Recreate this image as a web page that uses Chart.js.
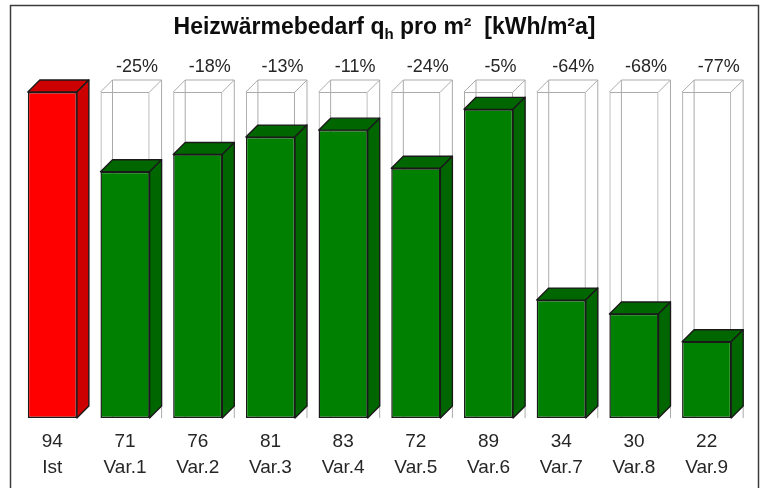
<!DOCTYPE html>
<html>
<head>
<meta charset="utf-8">
<title>Heizwärmebedarf</title>
<script src="https://cdn.jsdelivr.net/npm/chart.js@4/dist/chart.umd.min.js"></script>
<style>
  html, body { margin: 0; padding: 0; background: #fff; }
  #wrap { width: 762px; height: 488px; position: relative; }
</style>
</head>
<body>
<div id="wrap"><canvas id="chart" width="762" height="488"></canvas></div>
<script>
const categories = ["Ist", "Var.1", "Var.2", "Var.3", "Var.4", "Var.5", "Var.6", "Var.7", "Var.8", "Var.9"];
const values = [94, 71, 76, 81, 83, 72, 89, 34, 30, 22];
const reference = [null, 94, 94, 94, 94, 94, 94, 94, 94, 94];
const changes = ["", "-25%", "-18%", "-13%", "-11%", "-24%", "-5%", "-64%", "-68%", "-77%"];

const FONT = '"Liberation Sans", Arial, sans-serif';
const DEPTH = 12;
const INK = "#1a1a1a";
const TEXT = "#262626";
const GHOST = "#ababab";

function path(ctx, pts, fill, stroke, width) {
  ctx.beginPath();
  pts.forEach((p, i) => i ? ctx.lineTo(p[0], p[1]) : ctx.moveTo(p[0], p[1]));
  ctx.closePath();
  if (fill) { ctx.fillStyle = fill; ctx.fill(); }
  if (stroke) { ctx.strokeStyle = stroke; ctx.lineWidth = width; ctx.stroke(); }
}

/* frame, title, percent labels, 3D faces */
const box3d = {
  id: "box3d",
  beforeDatasetsDraw(chart) {
    const ctx = chart.ctx;
    ctx.save();
    ctx.strokeStyle = "#3c3c3c";
    ctx.lineWidth = 1.5;
    ctx.beginPath();
    ctx.moveTo(10.5, 488);
    ctx.lineTo(10.5, 5.5);
    ctx.lineTo(758.5, 5.5);
    ctx.lineTo(758.5, 488);
    ctx.stroke();

    // title with subscript
    const parts = [
      ["Heizwärmebedarf q", 'bold 23px ' + FONT, 0],
      ["h", 'bold 15px ' + FONT, 5],
      [" pro m²  [kWh/m²a]", 'bold 23px ' + FONT, 0]
    ];
    let total = 0;
    parts.forEach(p => { ctx.font = p[1]; total += ctx.measureText(p[0]).width; });
    let x = 384.5 - total / 2;
    ctx.fillStyle = "#0d0d0d";
    ctx.textAlign = "left";
    ctx.textBaseline = "alphabetic";
    parts.forEach(p => {
      ctx.font = p[1];
      ctx.fillText(p[0], x, 34 + p[2]);
      x += ctx.measureText(p[0]).width;
    });

    // back edges of the empty boxes and percent labels
    ctx.font = "18px " + FONT;
    ctx.textAlign = "center";
    chart.getDatasetMeta(1).data.forEach((bar, i) => {
      if (reference[i] === null) return;
      const l = bar.x - bar.width / 2, r = bar.x + bar.width / 2;
      const t = bar.y, b = bar.base;
      ctx.strokeStyle = GHOST;
      ctx.lineWidth = 1;
      ctx.beginPath();
      ctx.moveTo(l, t); ctx.lineTo(l + DEPTH, t - DEPTH);
      ctx.lineTo(r + DEPTH, t - DEPTH); ctx.lineTo(r, t);
      ctx.moveTo(l + DEPTH, t - DEPTH); ctx.lineTo(l + DEPTH, b);
      ctx.moveTo(r + DEPTH, t - DEPTH); ctx.lineTo(r + DEPTH, b);
      ctx.stroke();
      ctx.fillStyle = TEXT;
      ctx.fillText(changes[i], bar.x + DEPTH, 72);
    });
    ctx.restore();
  },
  beforeDatasetDraw(chart, args) {
    if (args.index !== 0) return;
    const ctx = chart.ctx;
    ctx.save();
    ctx.lineJoin = "round";
    chart.getDatasetMeta(0).data.forEach((bar, i) => {
      const l = bar.x - bar.width / 2, r = bar.x + bar.width / 2;
      const t = bar.y, b = bar.base;
      const shade = i === 0 ? "#cc0000" : "#006600";
      path(ctx, [[l, t], [l + DEPTH, t - DEPTH], [r + DEPTH, t - DEPTH], [r, t]], shade, INK, 1.4);
      path(ctx, [[r, t], [r + DEPTH, t - DEPTH], [r + DEPTH, b - DEPTH], [r, b]], shade, INK, 1.4);
    });
    ctx.restore();
  }
};

new Chart(document.getElementById("chart"), {
  type: "bar",
  data: {
    labels: categories,
    datasets: [
      {
        label: "Heizwärmebedarf",
        data: values,
        grouped: false,
        backgroundColor: c => c.dataIndex === 0 ? "#ff0000" : "#008000",
        borderColor: INK,
        borderWidth: 1.4,
        borderSkipped: false
      },
      {
        label: "Ist",
        data: reference,
        grouped: false,
        backgroundColor: "rgba(0,0,0,0)",
        borderColor: GHOST,
        borderWidth: 1,
        borderSkipped: false
      }
    ]
  },
  options: {
    responsive: false,
    animation: false,
    barPercentage: 0.675,
    categoryPercentage: 1,
    layout: { padding: { left: 16, right: 19, top: 92, bottom: 0 } },
    plugins: { legend: { display: false }, tooltip: { enabled: false } },
    scales: {
      x: {
        grid: { display: false },
        border: { display: false },
        afterFit(scale) { scale.height = 70; },
        ticks: {
          maxRotation: 0,
          autoSkip: false,
          padding: 3,
          color: TEXT,
          font: { family: FONT, size: 19, lineHeight: 1.37 },
          callback(v, i) { return [String(values[i]), categories[i]]; }
        }
      },
      y: { display: false, min: 0, max: 94 }
    }
  },
  plugins: [box3d]
});
</script>
</body>
</html>
